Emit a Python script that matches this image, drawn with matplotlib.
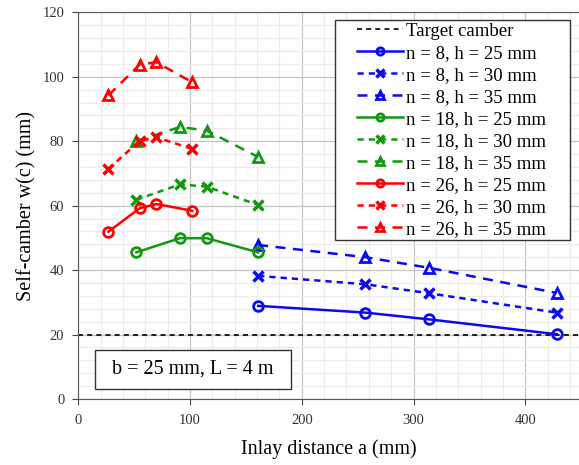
import matplotlib.pyplot as plt
from matplotlib.patches import Rectangle
from matplotlib.ticker import MultipleLocator

plt.rcParams['font.family'] = ['Liberation Serif', 'DejaVu Serif']

# inlay distance a (mm) per n
a_n8 = [161, 257, 314, 428]
a_n18 = [52, 91, 115, 161]
a_n26 = [27, 55, 70, 102]

# self-camber w(c) (mm)
w_n8 = {25: [28.9, 26.8, 24.7, 20.1], 30: [38.2, 35.6, 32.8, 26.8], 35: [47.8, 44.0, 40.7, 32.9]}
w_n18 = {25: [45.5, 49.9, 49.9, 45.5], 30: [61.8, 66.6, 65.9, 60.2], 35: [80.0, 84.4, 83.3, 75.1]}
w_n26 = {25: [51.9, 59.2, 60.5, 58.4], 30: [71.4, 80.1, 81.2, 77.6], 35: [94.2, 103.8, 104.5, 98.3]}

target = 20

fig = plt.figure(figsize=(5.79, 4.65), dpi=100)
ax = fig.add_axes([0.135, 0.142, 0.865, 0.8315])

ax.axhline(target, color='black', linestyle=(0, (3, 2.5)), lw=1.2, label='Target camber')

styles = {
    25: dict(marker='o', linestyle='-', mfc='none', ms=7, mew=2),
    30: dict(marker='x', linestyle=(0, (2.5, 2)), ms=7, mew=2.5),
    35: dict(marker='^', linestyle=(0, (4, 3)), mfc='none', ms=7, mew=2),
}

groups = [(8, a_n8, w_n8, '#0a0af0'), (18, a_n18, w_n18, '#119911'), (26, a_n26, w_n26, '#ff0000')]
for n, a, w, c in groups:
    for h in (25, 30, 35):
        ax.plot(a, w[h], color=c, lw=1.8, label=f'n = {n}, h = {h} mm', **styles[h])

ax.set_xlim(0, 448)
ax.set_ylim(0, 120)
ax.xaxis.set_major_locator(MultipleLocator(100))
ax.xaxis.set_minor_locator(MultipleLocator(20))
ax.yaxis.set_major_locator(MultipleLocator(20))
ax.yaxis.set_minor_locator(MultipleLocator(4))
ax.grid(which='major', color='#c4c4c4', lw=0.9)
ax.grid(which='minor', color='#ececec', lw=0.9)
ax.set_axisbelow(True)
ax.tick_params(which='minor', length=0)
ax.tick_params(which='major', length=4, color='#444444', labelsize=10.5, labelcolor='#333333')
ax.tick_params(axis='x', pad=7)
ax.tick_params(axis='y', pad=6)
for s in ('left', 'bottom', 'top'):
    ax.spines[s].set_color('#555555')
ax.spines['right'].set_visible(False)

ax.set_xlabel('Inlay distance a (mm)', fontsize=14.5, labelpad=9)
ax.set_ylabel('Self-camber w(c) (mm)', fontsize=14.5, labelpad=4)

# parameter box
ax.add_patch(Rectangle((15.2, 3.1), 175.2, 12.2, fc='white', ec='#333333', lw=1, zorder=4))
ax.text(102.8, 9.2, 'b = 25 mm, L = 4 m', fontsize=14.5, ha='center', va='center', zorder=5)

# legend with a fixed frame
ax.add_patch(Rectangle((0.5128, 0.4112), 0.4688, 0.5689, transform=ax.transAxes,
                       fc='white', ec='#333333', lw=1, zorder=4.5))
ax.legend(loc='upper left', bbox_to_anchor=(0.5567, 0.9727), fontsize=13.5, frameon=False,
          handlelength=2.45, labelspacing=0.26, borderpad=0, handletextpad=0.15, borderaxespad=0,
          markerscale=0.75)

fig.savefig('out.png', dpi=100)
